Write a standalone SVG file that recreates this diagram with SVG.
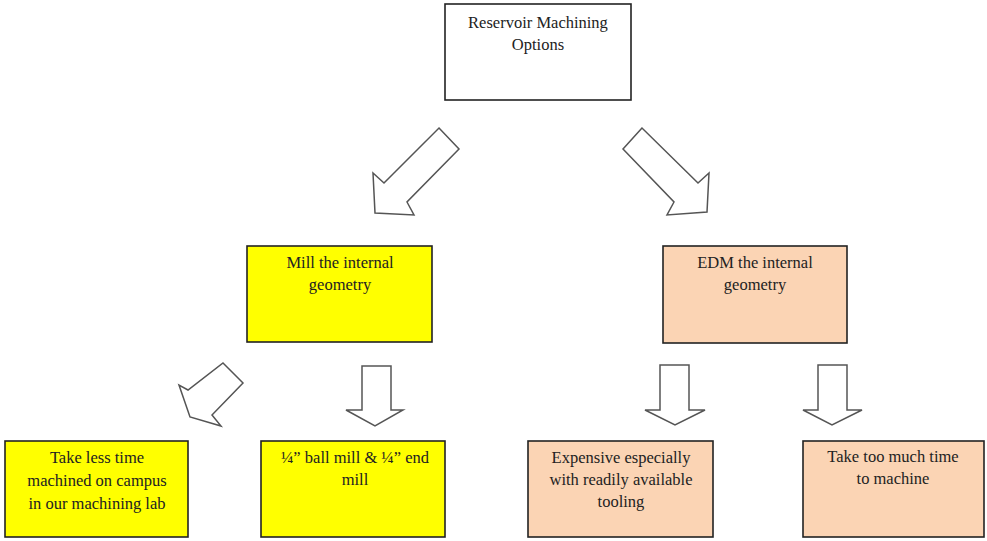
<svg xmlns="http://www.w3.org/2000/svg" width="987" height="541" viewBox="0 0 987 541">
<style>
.box{stroke:#222;stroke-width:1.6}
.white{fill:#fff}
.yellow{fill:#ffff00}
.peach{fill:#fbd4b4}
.arrow{fill:#fff;stroke:#555;stroke-width:1.5;stroke-linejoin:miter}
text{font-family:"Liberation Serif","Times New Roman",serif;font-size:16.5px;fill:#222;text-anchor:middle}
</style>
<rect width="987" height="541" fill="#fff"/>
<g id="connectors">
<path class="arrow" d="M439,128 L459,149 L407,202 L414,215 L375,213 L373,173 L384,183 Z"/>
<path class="arrow" d="M642,128 L623,149 L674,202 L667,215 L707,212 L709,173 L698,183 Z"/>
<path class="arrow" d="M223,363 L243,383 L212,415 L221,426 L190,417 L179,385 L188,390 Z"/>
<path class="arrow" d="M362,366 H391 V410 H403 L375,426 L346,410 H362 Z"/>
<path class="arrow" d="M660,365 H689 V410 H705 L675,425 L645,410 H660 Z"/>
<path class="arrow" d="M818,365 H847 V410 H862 L832,425 L803,410 H818 Z"/>
</g>
<g id="root">
<rect class="box white" x="445" y="4" width="186" height="96"/>
<text x="538" y="28">Reservoir Machining</text>
<text x="538" y="50">Options</text>
</g>
<g id="mill">
<rect class="box yellow" x="247" y="246" width="185" height="96"/>
<text x="340" y="268">Mill the internal</text>
<text x="340" y="290">geometry</text>
</g>
<g id="edm">
<rect class="box peach" x="663" y="246" width="184" height="97"/>
<text x="755" y="268">EDM the internal</text>
<text x="755" y="290">geometry</text>
</g>
<g id="less-time">
<rect class="box yellow" x="5" y="441" width="183" height="96"/>
<text x="97" y="463">Take less time</text>
<text x="97" y="486">machined on campus</text>
<text x="97" y="509">in our machining lab</text>
</g>
<g id="ball-mill">
<rect class="box yellow" x="261" y="441" width="184" height="96"/>
<text x="355" y="463">¼” ball mill &amp; ¼” end</text>
<text x="355" y="485">mill</text>
</g>
<g id="expensive">
<rect class="box peach" x="528" y="441" width="185" height="96"/>
<text x="621" y="463">Expensive especially</text>
<text x="621" y="485">with readily available</text>
<text x="621" y="507">tooling</text>
</g>
<g id="too-much-time">
<rect class="box peach" x="803" y="441" width="181" height="96"/>
<text x="893" y="462">Take too much time</text>
<text x="893" y="484">to machine</text>
</g>
</svg>
